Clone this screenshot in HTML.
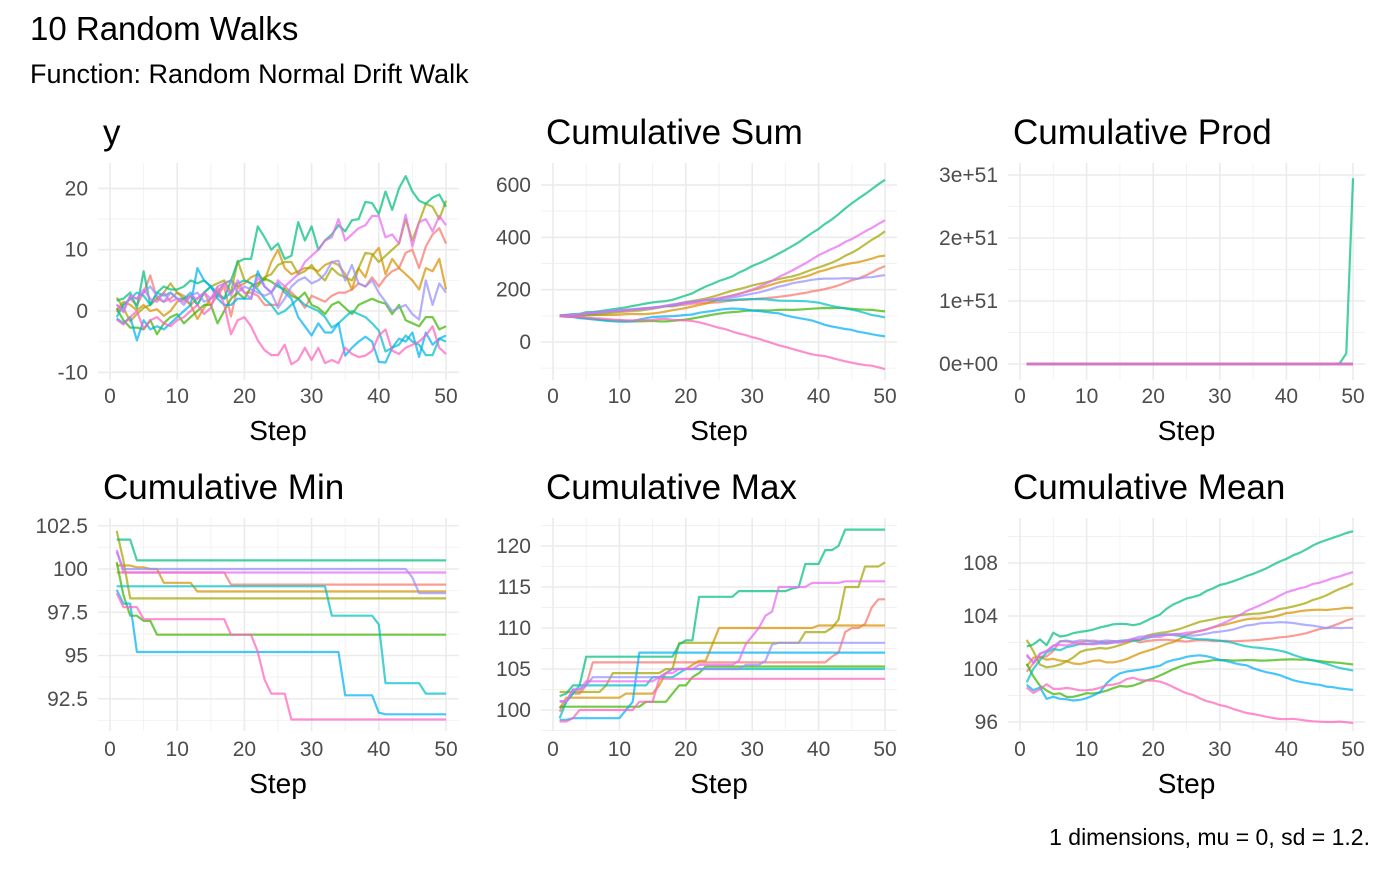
<!DOCTYPE html>
<html><head><meta charset="utf-8"><style>
body{margin:0;background:#fff;font-family:"Liberation Sans",Arial,sans-serif}
svg text{font-family:"Liberation Sans",Arial,sans-serif}
</style></head><body>
<svg id="chart" width="1400" height="866" viewBox="0 0 1400 866" xmlns="http://www.w3.org/2000/svg">
<rect width="1400" height="866" fill="#fff"/>
<text x="30" y="40" font-size="33" fill="#000">10 Random Walks</text>
<text x="30" y="83" font-size="27" fill="#000">Function: Random Normal Drift Walk</text>
<text x="1370" y="845" font-size="23" text-anchor="end" fill="#000">1 dimensions, mu = 0, sd = 1.2.</text>
<g id="panels"></g>
</svg>
<script>
const colors=["#F8766D","#D89000","#A3A500","#39B600","#00BF7D","#00BFC4","#00B0F6","#9590FF","#E76BF3","#FF62BC"];
const seriesNames=["walk-1","walk-2","walk-3","walk-4","walk-5","walk-6","walk-7","walk-8","walk-9","walk-10"];
const yRed=[-0.2,1,2,1,3,5.8,2,1.5,2,3,2.5,1,2,3,1,2.5,4,-0.9,4,3,3,2.5,1,1,1,4,3,2,0.5,2.5,2,1.5,2.5,3,3,3.5,4.5,4,5.5,4,5.5,6.5,7,9.5,10,7,10.5,12.5,13.5,11];
const yOrange=[0.2,1.5,1,0.1,1,0,0.3,-0.8,0,1.5,2,1,-1.3,0.5,2,3,4.5,5,4,4.5,5.5,6,5,8,10,7,6,6.5,7,7,6.5,7.5,8,7.5,6,3.5,7,5.5,9,10.3,6,8.5,7,6,5,3.5,7,6.5,8.5,3.5];
const yOlive=[2.2,0.5,-1.7,-0.5,0.5,1,2,3,4.5,3,2,2.5,1,3,4,4.5,5,3,8.2,5,4.5,4,5.5,6,7.5,8,8,6,6.5,7.5,6,5,7,6,5.5,5,7,9.5,9.3,8,9,10,11,15,11.5,14.5,17.5,17,15,18];
const yGreen=[0.4,-1.5,-2.7,-2.7,-3,-1.5,-3.8,-2,-1,-0.5,-2,-1,0,1,1,-2,0,2,3,2,4,4.5,5.3,4.8,4,3.5,2.5,2,3,1,0.5,-0.5,1,1.5,0.5,-0.5,1,1.5,2,1.5,1.2,-0.5,1,-1.5,-2,-2.5,-1,-1,-3,-2.5];
const yTeal=[1.7,2.0,3.0,0.5,6.5,1.0,3.0,4.0,3.5,3.5,4.0,5.0,4.5,5.0,4.0,3.0,2.0,5.0,8.0,8.5,8.5,13.8,12.0,10.0,11.0,8.5,9.0,14.5,11.5,13.8,10.0,11.5,12.5,14.0,13.0,14.8,15.0,17.8,17.6,15.8,19.5,16.5,20.0,22.0,19.5,18.0,17.5,18.5,19.0,17.0];
const yCyan=[-1,1,2,3,2.5,1,3,2.5,3,2,2,3,1,3,4,2.5,2,3,4.5,5,4.5,3.5,2,1,-0.5,0,1,2,1,0.5,0,-1,-2.7,-2,-1,0,-0.5,-1,-2,-3.2,-6.6,-6,-5.5,-4,-5,-5.5,-7.2,-7.2,-4.5,-5];
const yBlue=[-1.2,-2,-1,-4.8,-1.5,-3,-2.5,-3,-2,-1,0,1,7,5,4,2,1,1,2,2,2,6.5,4,3,4.5,3,2,-1,-2.5,-4,-2,-3.5,-3.5,-2,-7.3,-6,-5,-4.2,-5,-8.3,-8.4,-6,-4.5,-5,-3.5,-7.5,-3.5,-5.5,-4.5,-4];
const yPurple=[1,0,2.5,2,3,4,2.5,1.5,3,2,1,2.5,3,1.5,2,3,4.5,5,3,4,3.5,3,2.5,3,0.5,2,4,5,5.5,4.5,5,6,8,8.2,5,7.5,4.5,4,5,3,1.5,0,0.5,1,-0.5,-1.4,5,1,4.5,3];
const yMagenta=[1.1,-0.2,2.5,2,3.5,2,1.5,3,1.5,2,1.5,2.5,2,3,2,4,4.5,2.5,5,3,2,5.5,4,3,5,4,5,6,8,9,10,11.5,12,15,11.5,12.5,13.5,14,15.5,15.5,12,12.5,11,15.7,10.5,14.5,15,13,15.5,14];
const yPink=[-1.4,-2.2,-1,0,-2.9,-1.5,-1,-2,-2.5,-1.5,-1,0,1,-0.5,0.5,3.8,1,-3.8,-1.5,-1,-2.5,-4.8,-6.4,-7.2,-7.2,-5.5,-8.7,-8,-6,-8,-6,-8.5,-8,-8.5,-6,-7,-7.5,-7.3,-6.5,-4,-3,-6.5,-7,-6,-5.5,-5,-4,-2.5,-6,-7];
const prodTeal=[0,0,0,0,0,0,0,0,0,0,0,0,0,0,0,0,0,0,0,0,0,0,0,0,0,0,0,0,0,0,0,0,0,0,0,0,0,0,0,0,0,0,0,0,0,0,0,1e49,1.7e50,2.95e51];
const walks=[yRed,yOrange,yOlive,yGreen,yTeal,yCyan,yBlue,yPurple,yMagenta,yPink];
const xTicks=[0,10,20,30,40,50];
const ticksY=[-10,0,10,20];
const ticksSum=[0,200,400,600];
const ticksProd=[0,1e51,2e51,3e51];
const labelsProd=["0e+00","1e+51","2e+51","3e+51"];
const ticksMin=[92.5,95,97.5,100,102.5];
const ticksMax=[100,105,110,115,120];
const ticksMean=[96,100,104,108];

function cumsum(a){let s=100,o=[];for(const v of a){s+=v;o.push(s);}return o;}
function cummin(a){let m=Infinity,o=[];for(const v of a){m=Math.min(m,100+v);o.push(m);}return o;}
function cummax(a){let m=-Infinity,o=[];for(const v of a){m=Math.max(m,100+v);o.push(m);}return o;}
function cummean(a){let s=0,o=[];a.forEach((v,i)=>{s+=100+v;o.push(s/(i+1));});return o;}
function cumprod(a){let p=1,o=[];for(const v of a){p*=v;o.push(p);}return o;}

const NS="http://www.w3.org/2000/svg";
const root=document.getElementById('panels');
function el(tag,attrs,parent){const e=document.createElementNS(NS,tag);for(const k in attrs)e.setAttribute(k,attrs[k]);(parent||root).appendChild(e);return e;}

const cols=[{x0:110,x50:446,l:98,r:459},{x0:553,x50:885,l:541,r:897},{x0:1020,x50:1353,l:1008,r:1365}];
const rows=[{t:163,b:380,title:144,tick:403,axis:440},{t:518,b:731,title:499,tick:756,axis:793}];

const panels=[
 {name:"y",col:0,row:0,v0:0,p0:311,scale:6.13,ticks:ticksY,labels:null,data:walks.map(w=>w.slice())},
 {name:"Cumulative Sum",col:1,row:0,v0:0,p0:342,scale:0.2617,ticks:ticksSum,labels:null,data:walks.map(cumsum)},
 {name:"Cumulative Prod",col:2,row:0,v0:0,p0:364,scale:63/1e51,ticks:ticksProd,labels:labelsProd,data:walks.map((w,i)=>i===4?prodTeal:cumprod(w))},
 {name:"Cumulative Min",col:0,row:1,v0:100,p0:569,scale:17.3,ticks:ticksMin,labels:null,data:walks.map(cummin)},
 {name:"Cumulative Max",col:1,row:1,v0:100,p0:710,scale:8.2,ticks:ticksMax,labels:null,data:walks.map(cummax)},
 {name:"Cumulative Mean",col:2,row:1,v0:100,p0:669,scale:13.25,ticks:ticksMean,labels:null,data:walks.map(cummean)}
];

panels.forEach(p=>{
 const c=cols[p.col],r=rows[p.row];
 const slug=p.name.toLowerCase().replace(/\s+/g,'-');
 const g=el('g',{});
 
 
 const xs=s=>c.x0+(c.x50-c.x0)*s/50;
 const ys=v=>p.p0-(v-p.v0)*p.scale;
 for(let i=0;i<p.ticks.length+1;i++){
  const step=p.ticks[1]-p.ticks[0];
  const mv=p.ticks[0]+step*(i-0.5);
  const yy=ys(mv);
  if(yy>r.t&&yy<r.b) el('line',{x1:c.l,x2:c.r,y1:yy,y2:yy,stroke:'#f2f2f2','stroke-width':1},g);
 }
 for(let s=5;s<=55;s+=10){const xx=xs(s);if(xx<c.r)el('line',{x1:xx,x2:xx,y1:r.t,y2:r.b,stroke:'#f2f2f2','stroke-width':1},g);}
 p.ticks.forEach((t,i)=>{
  const yy=ys(t);
  el('line',{x1:c.l,x2:c.r,y1:yy,y2:yy,stroke:'#ebebeb','stroke-width':1.6},g);
  const lb=el('text',{x:c.l-10,y:yy+7,'font-size':21,'text-anchor':'end',fill:'#4d4d4d'},g);
  lb.textContent=p.labels?p.labels[i]:String(t);
  
  
 });
 xTicks.forEach(t=>{
  const xx=xs(t);
  el('line',{x1:xx,x2:xx,y1:r.t,y2:r.b,stroke:'#ebebeb','stroke-width':1.6},g);
  const lb=el('text',{x:xx,y:r.tick,'font-size':21,'text-anchor':'middle',fill:'#4d4d4d'},g);
  lb.textContent=String(t);
  
  
 });
 const tt=el('text',{x:c.l+5,y:r.title,'font-size':35,fill:'#000'},g);
 tt.textContent=p.name;
 
 
 const at=el('text',{x:(c.x0+c.x50)/2,y:r.axis,'font-size':28,'text-anchor':'middle',fill:'#000'},g);
 at.textContent='Step';
 
 
 p.data.forEach((arr,i)=>{
  const pts=arr.map((v,k)=>xs(k+1).toFixed(1)+','+ys(v).toFixed(1)).join(' ');
  const pl=el('polyline',{points:pts,fill:'none',stroke:colors[i],'stroke-width':2.2,'stroke-opacity':0.72,'stroke-linejoin':'round'},g);
  
  
 });
});
</script>
</body></html>
